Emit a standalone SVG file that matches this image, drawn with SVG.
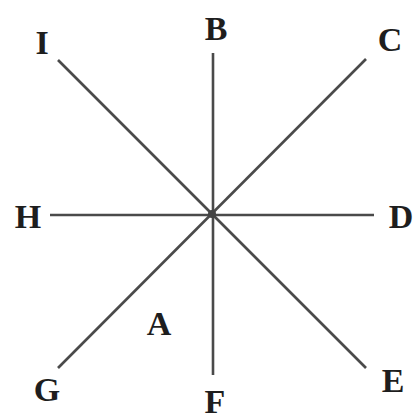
<svg xmlns="http://www.w3.org/2000/svg" width="417" height="420" viewBox="0 0 417 420">
<style>
.l{stroke:#4a4a4a;stroke-width:2.6;stroke-linecap:butt;fill:none}
.t{font-family:"Liberation Serif","Times New Roman",serif;font-weight:bold;font-size:34px;fill:#1e1e1e;text-anchor:middle}
</style>
<rect width="417" height="420" fill="#fff"/>
<g id="connectors">
<line class="l" x1="213" y1="53" x2="213" y2="375"/>
<line class="l" x1="50" y1="215" x2="374" y2="215"/>
<line class="l" x1="58" y1="60" x2="366" y2="368"/>
<line class="l" x1="366" y1="59" x2="58" y2="368"/>
<circle cx="212" cy="214" r="4" fill="#444"/>
</g>
<g id="I"><text class="t" x="42" y="54">I</text></g>
<g id="B"><text class="t" x="216" y="40">B</text></g>
<g id="C"><text class="t" x="390" y="51">C</text></g>
<g id="H"><text class="t" x="28" y="228">H</text></g>
<g id="D"><text class="t" x="401" y="228">D</text></g>
<g id="G"><text class="t" x="47" y="401">G</text></g>
<g id="A"><text class="t" x="159" y="335">A</text></g>
<g id="F"><text class="t" x="215" y="413">F</text></g>
<g id="E"><text class="t" x="393" y="392">E</text></g>
</svg>
